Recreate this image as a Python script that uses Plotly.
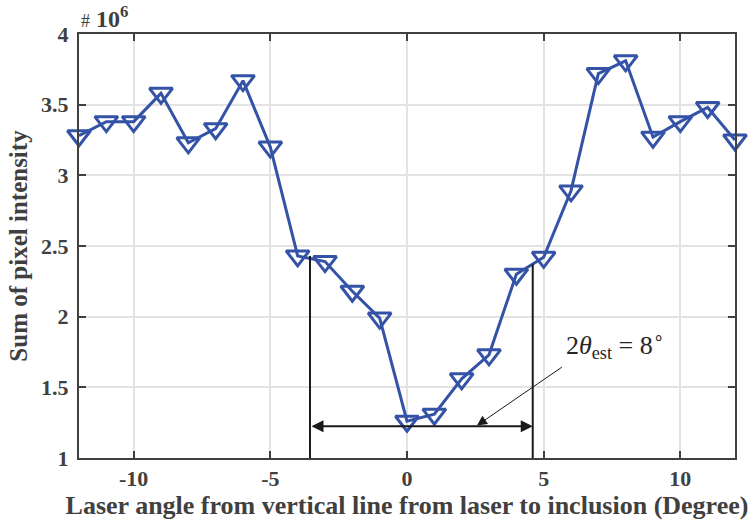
import plotly.graph_objects as go

# Data (values in units of 1e6)
angles = list(range(-12, 13))
intensity = [3.28, 3.38, 3.38, 3.58, 3.23, 3.33, 3.67, 3.20, 2.43, 2.39,
             2.18, 1.99, 1.26, 1.31, 1.56, 1.73, 2.30, 2.42, 2.89, 3.72,
             3.81, 3.27, 3.38, 3.48, 3.25]

x_tickvals = [-10, -5, 0, 5, 10]
x_ticktext = ["-10", "-5", "0", "5", "10"]
y_tickvals = [1, 1.5, 2, 2.5, 3, 3.5, 4]
y_ticktext = ["1", "1.5", "2", "2.5", "3", "3.5", "4"]

# Bracket annotation (data units)
bracket_left, bracket_right = -3.55, 4.6
bracket_left_top, bracket_right_top = 2.43, 2.37
bracket_y = 1.225
label_pos = (7.6, 1.80)
pointer_tail = (5.72, 1.65)
pointer_head = (2.56, 1.23)

BLUE = "#3453a6"
GRAY = "#404040"
FONT = "Liberation Serif"

fig = go.Figure()
fig.add_trace(go.Scatter(
    x=angles, y=intensity, mode="lines+markers",
    line=dict(color=BLUE, width=3),
    marker=dict(symbol="triangle-down-open", size=20, color=BLUE,
                line=dict(color=BLUE, width=3)),
    cliponaxis=False, showlegend=False,
))

# vertical bracket lines
for xv, ytop in [(bracket_left, bracket_left_top), (bracket_right, bracket_right_top)]:
    fig.add_shape(type="line", xref="x", yref="y", x0=xv, x1=xv, y0=1, y1=ytop,
                  line=dict(color="#1a1a1a", width=2))

# double-headed arrow
fig.add_annotation(x=bracket_right, y=bracket_y, ax=bracket_left, ay=bracket_y,
                   xref="x", yref="y", axref="x", ayref="y", text="",
                   showarrow=True, arrowhead=2, startarrowhead=2, arrowside="end+start",
                   arrowsize=1.2, startarrowsize=1.2, arrowwidth=2, arrowcolor="#1a1a1a")

# pointer arrow
fig.add_annotation(x=pointer_head[0], y=pointer_head[1], ax=pointer_tail[0], ay=pointer_tail[1],
                   xref="x", yref="y", axref="x", ayref="y", text="",
                   showarrow=True, arrowhead=2, arrowsize=2, arrowwidth=1, arrowcolor="#1a1a1a")

# label
fig.add_annotation(x=label_pos[0], y=label_pos[1], xref="x", yref="y",
                   text="2<i>θ</i><sub>est</sub> = 8<sup>∘</sup>", showarrow=False,
                   font=dict(family=FONT, size=26, color="#262626"))

# exponent label
fig.add_annotation(x=0.0, y=1.0, xref="paper", yref="paper", xanchor="left", yanchor="bottom",
                   xshift=0, yshift=0,
                   text="<span style='font-size:18px'>#</span> <b>10<sup>6</sup></b>",
                   showarrow=False, font=dict(family=FONT, size=24, color=GRAY))

axis_common = dict(showline=True, linewidth=2, linecolor=GRAY, mirror="ticks",
                   ticks="inside", ticklen=7, tickwidth=2, tickcolor=GRAY,
                   showgrid=True, gridcolor="#e3e3e3", gridwidth=2, zeroline=False,
                   tickfont=dict(family=FONT, size=22, color=GRAY, weight="bold"))

fig.update_xaxes(range=[-12, 12], tickvals=x_tickvals, ticktext=x_ticktext,
                 ticklabelstandoff=0,
                 title=dict(text="<b>Laser angle from vertical line from laser to inclusion (Degree)</b>",
                            font=dict(family=FONT, size=26, color=GRAY), standoff=2),
                 **axis_common)
fig.update_yaxes(range=[1, 4], tickvals=y_tickvals, ticktext=y_ticktext,
                 ticklabelstandoff=4,
                 title=dict(text="<b>Sum of pixel intensity</b>",
                            font=dict(family=FONT, size=25, color=GRAY), standoff=6),
                 **axis_common)

fig.update_layout(width=753, height=526, margin=dict(l=79, r=18, t=34, b=68, autoexpand=False),
                  plot_bgcolor="white", paper_bgcolor="white")

fig.write_html("out.html")
